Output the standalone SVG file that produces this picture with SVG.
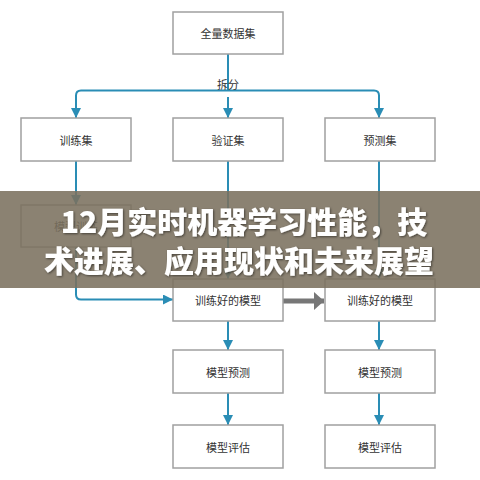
<svg xmlns="http://www.w3.org/2000/svg" width="480" height="480" viewBox="0 0 480 480">
<style>
.box rect{fill:#fff;stroke:#a0a0a0;stroke-width:1.5}
.box text{font-family:"Noto Sans CJK SC","Noto Sans",sans-serif;font-size:11px;fill:#333;text-anchor:middle;dominant-baseline:central}
.c{fill:none;stroke:#2a8db5;stroke-width:2}
.lbl{font-family:"Noto Sans CJK SC",sans-serif;font-size:11px;fill:#333;text-anchor:middle}
.title{font-family:"Noto Sans CJK SC","Noto Sans",sans-serif;font-size:30px;font-weight:900;fill:#fff;text-anchor:middle}
</style>
<defs>
<marker id="ah" viewBox="0 0 10 10" refX="10" refY="5" markerWidth="10" markerHeight="10" markerUnits="userSpaceOnUse" orient="auto">
<path d="M0,0 L10,5 L0,10 z" fill="#2a8db5"/>
</marker>
<marker id="gh" viewBox="0 0 10 18" refX="10" refY="9" markerWidth="10" markerHeight="18" markerUnits="userSpaceOnUse" orient="auto">
<path d="M0,0 L10,9 L0,18 z" fill="#777"/>
</marker>
<filter id="sh" x="-5%" y="-20%" width="110%" height="140%">
<feDropShadow dx="1" dy="1" stdDeviation="1" flood-color="#000" flood-opacity="0.5"/>
</filter>
</defs>
<rect width="480" height="480" fill="#fff"/>
<g id="connectors">
<path class="c" d="M228,54 V90.5"/>
<path class="c" d="M76,118 V95.5 Q76,90.5 81,90.5 H374 Q379,90.5 379,95.5 V118" marker-end="url(#ah)"/>
<path class="c" d="M76,96 V118" marker-end="url(#ah)"/>
<path class="c" d="M228,97 V118" marker-end="url(#ah)"/>
<path class="c" d="M76,161 V205" marker-end="url(#ah)"/>
<path class="c" d="M76,247 V294.5 Q76,299.5 81,299.5 H173" marker-end="url(#ah)"/>
<path class="c" d="M228,161 V279" marker-end="url(#ah)"/>
<path class="c" d="M379,161 V279" marker-end="url(#ah)"/>
<path fill="none" stroke="#777" stroke-width="5" d="M283,301 H324" marker-end="url(#gh)"/>
<path class="c" d="M228,321 V350" marker-end="url(#ah)"/>
<path class="c" d="M379,321 V350" marker-end="url(#ah)"/>
<path class="c" d="M228,393 V425" marker-end="url(#ah)"/>
<path class="c" d="M379,393 V425" marker-end="url(#ah)"/>
<text class="lbl" x="228" y="89">拆分</text>
</g>
<g id="n1" class="box"><rect x="173" y="12" width="110" height="42"/><text x="228" y="33">全量数据集</text></g>
<g id="n2" class="box"><rect x="21" y="118" width="110" height="43"/><text x="76" y="139.5">训练集</text></g>
<g id="n3" class="box"><rect x="173" y="118" width="110" height="43"/><text x="228" y="139.5">验证集</text></g>
<g id="n4" class="box"><rect x="325" y="118" width="110" height="43"/><text x="380" y="139.5">预测集</text></g>
<g id="n5" class="box"><rect x="21" y="205" width="110" height="42"/><text x="76" y="226">模型训练</text></g>
<g id="n6" class="box"><rect x="173" y="279" width="110" height="42"/><text x="228" y="300">训练好的模型</text></g>
<g id="n7" class="box"><rect x="325" y="279" width="110" height="42"/><text x="380" y="300">训练好的模型</text></g>
<g id="n8" class="box"><rect x="173" y="350" width="110" height="43"/><text x="228" y="371.5">模型预测</text></g>
<g id="n9" class="box"><rect x="325" y="350" width="110" height="43"/><text x="380" y="371.5">模型预测</text></g>
<g id="n10" class="box"><rect x="173" y="425" width="110" height="43"/><text x="228" y="446.5">模型评估</text></g>
<g id="n11" class="box"><rect x="325" y="425" width="110" height="43"/><text x="380" y="446.5">模型评估</text></g>
<rect x="0" y="191" width="480" height="97" fill="#7b715f" fill-opacity="0.88"/>
<g filter="url(#sh)">
<text class="title" x="244" y="233">12月实时机器学习性能，技</text>
<text class="title" x="239" y="272">术进展、应用现状和未来展望</text>
</g>
</svg>
